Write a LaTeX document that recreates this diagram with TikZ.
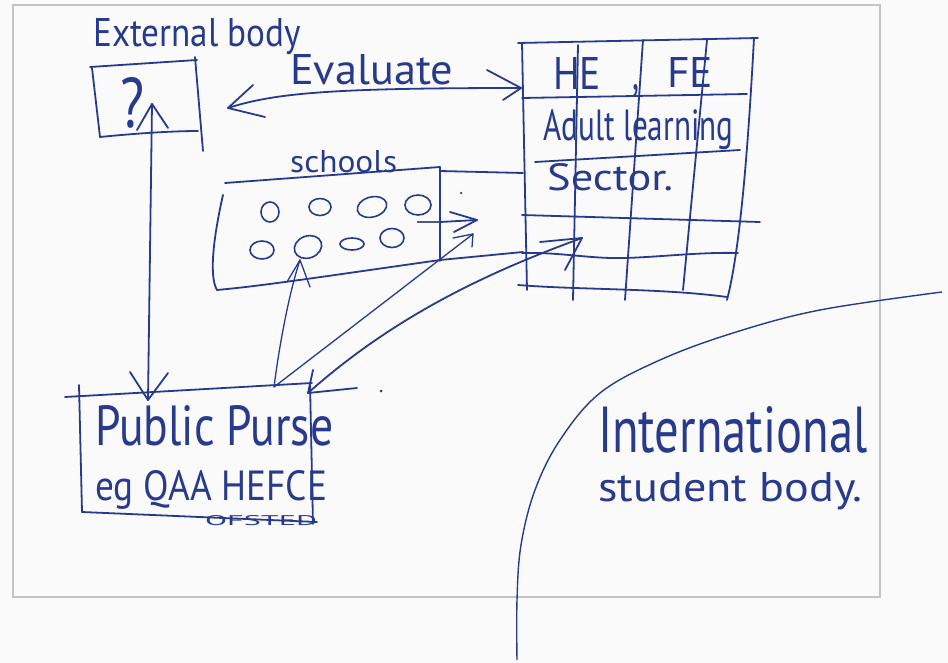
\documentclass[tikz,border=0pt]{standalone}
\usepackage{fontspec}
\setmainfont{PT Sans}
\usepackage{graphicx}
\usetikzlibrary{shapes.geometric}
\definecolor{ink}{RGB}{40,58,140}
\definecolor{framegray}{RGB}{196,196,196}
\definecolor{paper}{RGB}{250,250,250}
\newcommand{\fitwh}[3]{\resizebox{#1pt}{#2pt}{#3}}
\begin{document}
\begin{tikzpicture}[x=1pt,y=-1pt,
  pen/.style={draw=ink, line width=1.8pt, line cap=round, line join=round},
  thinpen/.style={draw=ink, line width=1.3pt, line cap=round, line join=round},
  hand/.style={text=ink, inner sep=0pt, anchor=base west, font=\fontsize{24}{24}\selectfont},
  dot/.style={circle, fill=ink, inner sep=0pt, minimum size=3pt},
  school/.style={ellipse, draw=ink, line width=1.6pt, inner sep=0pt}
]
% page and frame
\fill[paper] (0,0) rectangle (948,663);
\useasboundingbox (0,0) rectangle (948,663);
\draw[framegray, line width=1.3pt] (13,5) rectangle (880,597);

% External body box with ?
\node[hand] (extlbl) at (93,47) {\fitwh{208}{28}{External body}};
\draw[pen] (90,67) -- (197,60);
\draw[pen] (92,68) -- (100,137);
\draw[pen] (100,137) .. controls (140,133) and (175,131) .. (198,131);
\draw[pen] (195,57) -- (203,151);
\node[hand] (qmark) at (120,128) {\fitwh{24}{50}{?}};

% Evaluate arrow
\coordinate (evL) at (228,108);
\coordinate (evR) at (521,88);
\draw[pen] (evL) .. controls (275,93) and (330,88) .. (evR);
\draw[pen] (253,85) -- (evL) -- (265,117);
\draw[pen] (487,70) -- (evR) -- (503,100);
\node[hand] (evlbl) at (290,85) {\fitwh{163}{30}{Evaluate}};

% Grid (HE, FE ...)
\draw[pen] (518,43) -- (758,38);
\draw[pen] (522,43) -- (527,290);
\draw[pen] (754,38) .. controls (748,150) and (740,250) .. (727,300);
\draw[pen] (518,285) .. controls (580,290) and (660,288) .. (727,297);
\draw[pen] (522,98) -- (747,94);
\draw[pen] (535,162) -- (740,150);
\draw[pen] (522,215) -- (760,222);
\draw[pen] (522,253) .. controls (560,252) and (590,259) .. (625,258) .. controls (660,257) and (700,252) .. (738,253);
\draw[pen] (578,45) -- (573,300);
\draw[pen] (643,40) -- (625,300);
\draw[pen] (707,40) -- (683,290);
\node[hand] (he) at (553,90) {\fitwh{48}{32}{HE}};
\node[hand] (comma) at (632,90) {\fitwh{7}{5}{,}};
\node[hand] (fe) at (667,88) {\fitwh{46}{30}{FE}};
\node[hand] (adult) at (543,141) {\fitwh{190}{31}{Adult learning}};
\node[hand] (sector) at (547,191) {\fitwh{126}{27}{Sector.}};

% Schools box
\node[hand] (schlbl) at (290,173) {\fitwh{107}{22}{schools}};
\draw[pen] (225,183) -- (440,167);
\draw[pen] (440,167) -- (440,261);
\draw[pen] (223,195) .. controls (215,230) and (208,275) .. (217,290);
\draw[pen] (217,290) .. controls (260,286) and (300,280) .. (440,260);
\draw[pen] (440,171) -- (523,173);
\draw[pen] (440,260) -- (523,252);
\node[school, minimum width=18pt, minimum height=20pt] (c1) at (270,212) {};
\node[school, minimum width=22pt, minimum height=17pt] (c2) at (320,207) {};
\node[school, minimum width=30pt, minimum height=20pt, rotate=15] (c3) at (372,207) {};
\node[school, minimum width=26pt, minimum height=20pt] (c4) at (418,205) {};
\node[school, minimum width=24pt, minimum height=18pt] (c5) at (262,250) {};
\node[school, minimum width=28pt, minimum height=22pt, rotate=20] (c6) at (308,247) {};
\node[school, minimum width=24pt, minimum height=12pt] (c7) at (352,244) {};
\node[school, minimum width=24pt, minimum height=19pt] (c8) at (392,238) {};
\coordinate (sArrS) at (417,222);
\coordinate (sArrE) at (477,220);
\draw[draw=ink!55!gray, line width=1.6pt] (sArrS) -- (440,222);
\draw[pen] (440,222) -- (sArrE);
\draw[pen] (450,212) -- (sArrE) -- (454,232);
\node[dot, minimum size=2.5pt] (dotA) at (461,193) {};

% Public Purse box
\draw[pen] (65,397) -- (312,383);
\draw[pen] (79,385) -- (82,512);
\draw[pen] (82,512) -- (317,522);
\draw[pen] (310,383) -- (313,524);
\node[hand] (pp) at (95,445) {\fitwh{238}{40}{Public Purse}};
\node[hand] (eg) at (95,500) {\fitwh{232}{30}{eg QAA HEFCE}};
\node[hand] (ofsted) at (205,525) {\fitwh{112}{10}{OFSTED}};
\node[dot, minimum size=3pt] (dotB) at (381,391) {};

% vertical double arrow between ? box and Public Purse
\coordinate (qtip) at (152,104);
\coordinate (pptop) at (148,400);
\draw[pen] (qtip) -- (pptop);
\draw[pen] (137,130) -- (qtip) -- (168,128);
\draw[pen] (130,372) -- (pptop) -- (168,373);

% arrows from Public Purse
\coordinate (ppB) at (274,387);
\coordinate (schTip) at (473,234);
\coordinate (c6tip) at (300,260);
\draw[thinpen] (ppB) .. controls (280,340) and (290,290) .. (c6tip);
\draw[thinpen] (287,282) -- (c6tip) -- (310,287);
\draw[thinpen] (ppB) -- (schTip);
\draw[thinpen] (453,238) -- (schTip) -- (472,247);
\coordinate (ppC) at (308,393);
\coordinate (gridTip) at (582,238);
\draw[pen] (ppC) .. controls (390,320) and (480,275) .. (gridTip);
\draw[pen] (540,242) -- (gridTip) -- (565,270);
\draw[pen] (313,370) -- (ppC) -- (357,388);

% International student body
\draw[ink, line width=1.4pt] plot[smooth, tension=0.6] coordinates {(942,292) (820,310) (733,333) (660,360) (600,393) (560,440) (535,490) (521,545) (517,600) (517,660)};
\node[hand] (intl) at (598,452) {\fitwh{269}{46}{International}};
\node[hand] (stud) at (598,501) {\fitwh{264}{29}{student body.}};
\end{tikzpicture}
\end{document}
